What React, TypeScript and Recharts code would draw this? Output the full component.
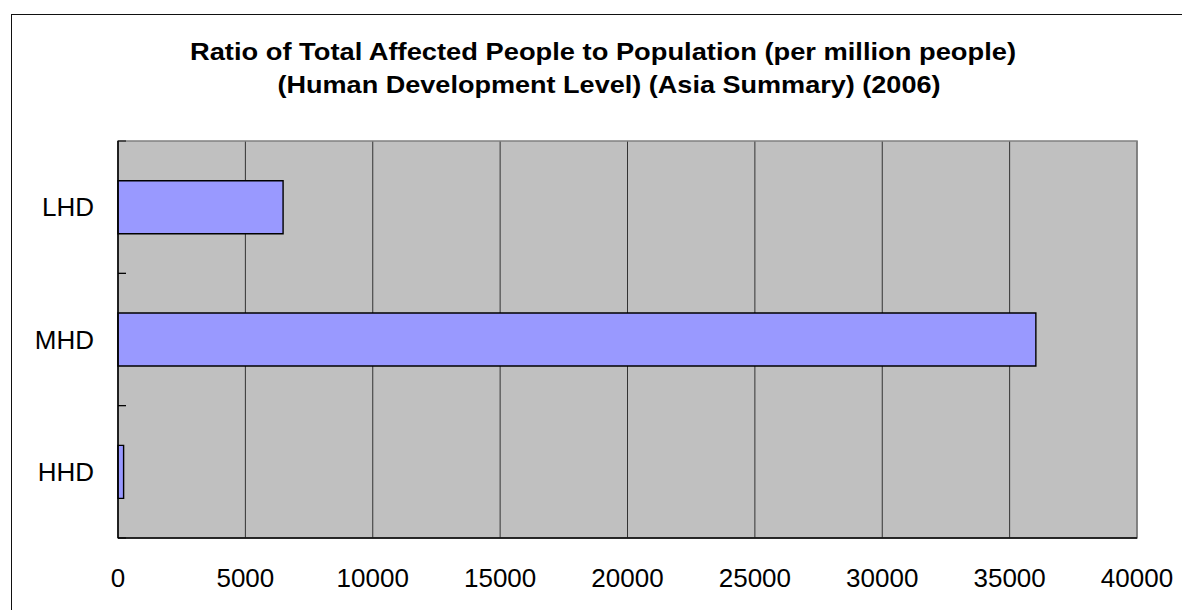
import React from 'react';
import {
  BarChart, Bar, XAxis, YAxis, CartesianGrid, ReferenceArea,
} from 'recharts';

const levels = ['LHD', 'MHD', 'HHD'];
const ratios = [6480, 36030, 220];
const xTicks = [0, 5000, 10000, 15000, 20000, 25000, 30000, 35000, 40000];
const titleLines = [
  'Ratio of Total Affected People to Population (per million people)',
  '(Human Development Level) (Asia Summary) (2006)',
];

const FONT = "'Liberation Sans', Arial, sans-serif";
const LABEL_GAP = 24;

const rows = levels.map((level, i) => ({ level, ratio: ratios[i] }));

// category label plus short inward marks on the band edges
const LevelTick = (props: any) => {
  const { x, y, payload } = props;
  const half = payload?.offset ?? 66;
  const axisX = x + LABEL_GAP;
  return (
    <g>
      <line x1={axisX} x2={axisX + 8} y1={y - half} y2={y - half} stroke="#000" strokeWidth={1} />
      <line x1={axisX} x2={axisX + 8} y1={y + half} y2={y + half} stroke="#000" strokeWidth={1} />
      <text x={x} y={y} dy="0.355em" textAnchor="end" fontFamily={FONT} fontSize={26} fill="#000">
        {payload.value}
      </text>
    </g>
  );
};

export default function App() {
  return (
    <div style={{ position: 'absolute', left: 0, top: 0, width: 1182, height: 610, background: '#fff', overflow: 'hidden', fontFamily: FONT }}>
      {/* frame around the chart area */}
      <div style={{ position: 'absolute', left: 11, top: 14, width: 1200, height: 620, borderLeft: '1px solid #111', borderTop: '1px solid #111' }} />

      <svg width={1182} height={120} style={{ position: 'absolute', left: 0, top: 0 }}>
        <text x={603} y={60} textAnchor="middle" fontFamily={FONT} fontWeight="bold" fontSize={24}
          textLength={826} lengthAdjust="spacingAndGlyphs" fill="#000">{titleLines[0]}</text>
        <text x={609} y={93} textAnchor="middle" fontFamily={FONT} fontWeight="bold" fontSize={24}
          textLength={663} lengthAdjust="spacingAndGlyphs" fill="#000">{titleLines[1]}</text>
      </svg>

      <div style={{ position: 'absolute', left: 0, top: 0 }}>
        <BarChart
          width={1182}
          height={610}
          data={rows}
          layout="vertical"
          margin={{ top: 141, right: 45, bottom: 22, left: 18 }}
          barCategoryGap="30%"
        >
          <CartesianGrid horizontal={false} stroke="#333" fill="#c0c0c0" fillOpacity={1} />
          <ReferenceArea x1={0} x2={40000} fill="none" stroke="#808080" strokeWidth={1.5} ifOverflow="visible" />
          <XAxis
            type="number"
            domain={[0, 40000]}
            ticks={xTicks}
            interval={0}
            height={50}
            tickLine={false}
            tickSize={0}
            tickMargin={31}
            axisLine={{ stroke: '#000', strokeWidth: 1.5 }}
            tick={{ fill: '#000', fontSize: 26, fontFamily: FONT }}
          />
          <YAxis
            type="category"
            dataKey="level"
            width={100}
            tickLine={false}
            tickSize={0}
            tickMargin={LABEL_GAP}
            axisLine={{ stroke: '#000', strokeWidth: 1.5 }}
            tick={<LevelTick />}
          />
          <Bar
            dataKey="ratio"
            fill="#9999ff"
            stroke="#000"
            strokeWidth={1.4}
            isAnimationActive={false}
          />
        </BarChart>
      </div>
    </div>
  );
}
